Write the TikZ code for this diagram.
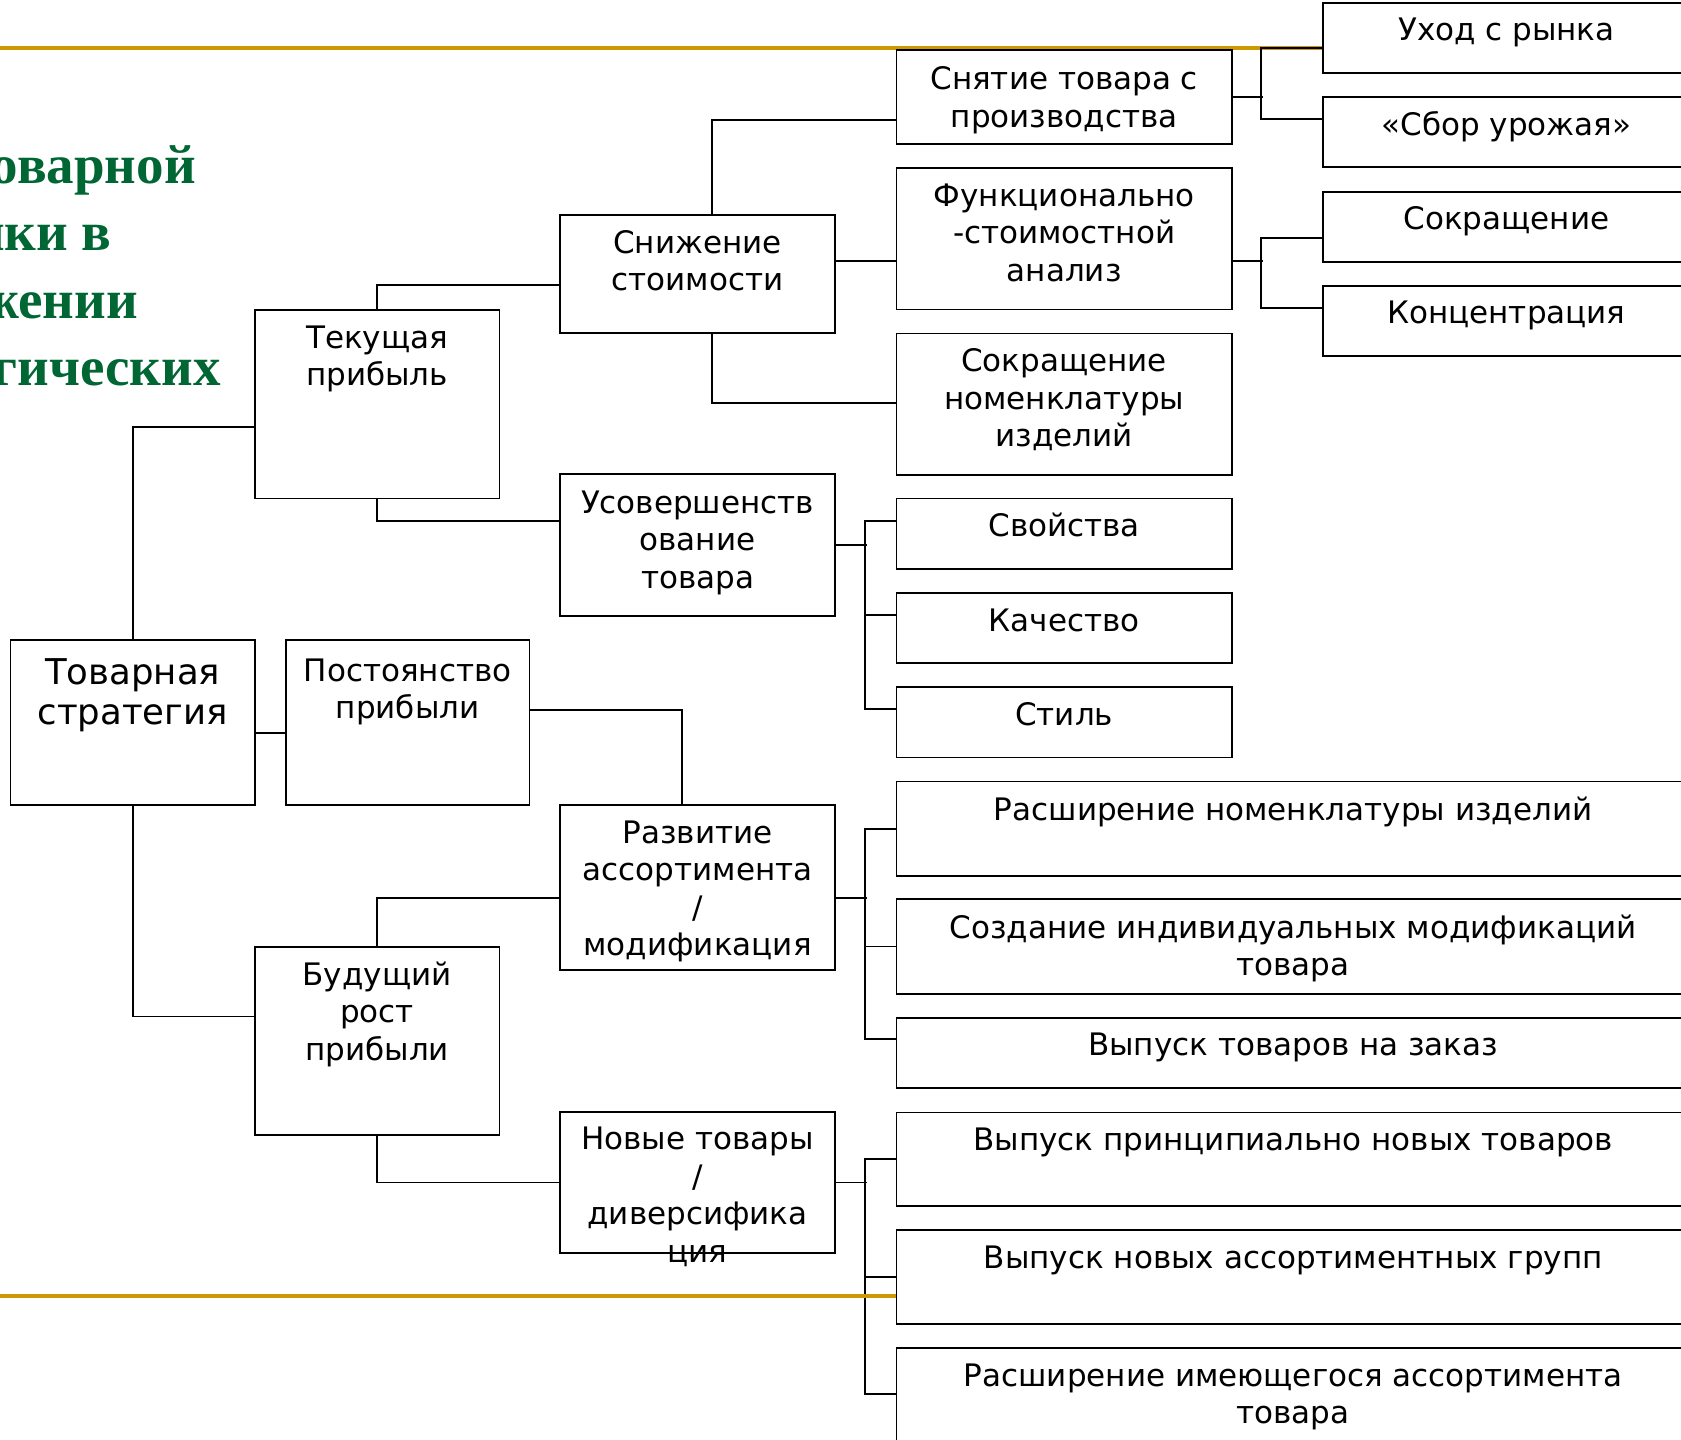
\documentclass[tikz,border=0pt]{standalone}
\usepackage{fontspec}
\setmainfont{DejaVu Sans}
\newfontfamily\titlefont{Liberation Serif}
\usetikzlibrary{calc}
\definecolor{gold}{RGB}{204,153,0}
\definecolor{titlegreen}{RGB}{0,102,51}
\tikzset{
  box/.style={draw=black, line width=1.8pt, fill=white, inner sep=0pt, anchor=north west},
  lbl/.style={inner sep=0pt, align=center, anchor=north, font=\fontsize{31}{37.5}\selectfont},
  biglbl/.style={lbl, font=\fontsize{35.5}{40}\selectfont},
  conn/.style={line width=1.8pt},
  goldline/.style={draw=gold, line width=4pt},
  ttl/.style={inner sep=0pt, anchor=base east, text=titlegreen, font=\titlefont\bfseries\fontsize{55}{60}\selectfont}
}
\newcommand\mkbox[7]{%
  \node[box, minimum width=#4pt, minimum height=#5pt] (#1) at (#2,#3) {};
  \node[lbl] (#1-t) at (#1.north) {\rule{0pt}{#6pt}#7};
}
\begin{document}
\begin{tikzpicture}[x={(1pt,0pt)}, y={(0pt,-1pt)}]
\useasboundingbox (0,0) rectangle (1681,1440);
\clip (0,0) rectangle (1681,1440);
\fill[white] (0,0) rectangle (1681,1440);

% title fragments
\node[ttl] (t1) at (196,183) {товарной};
\node[ttl] (t2) at (112,250) {политики в};
\node[ttl] (t3) at (138,318) {достижении};
\node[ttl] (t4) at (221,385) {стратегических};

% top gold line
\draw[goldline] (0,47.7) -- (1322,47.7);

% boxes
\node[box, minimum width=244.4pt, minimum height=165pt] (tov) at (9.6,639) {};
\node[biglbl] (tov-t) at (tov.north) {\rule{0pt}{45pt}Товарная\\стратегия};
\mkbox{tek}{254}{309}{244.5}{188.5}{39}{Текущая\\прибыль}
\mkbox{post}{285}{639}{243.5}{165}{42}{Постоянство\\прибыли}
\mkbox{bud}{254}{946}{244.5}{188.3}{39}{Будущий\\рост\\прибыли}
\mkbox{snij}{559}{214}{275.3}{118}{39}{Снижение\\стоимости}
\mkbox{usov}{559}{473.3}{275.3}{141.7}{39.5}{Усовершенств\\ование\\товара}
\mkbox{razv}{559}{804}{275.3}{165.3}{39}{Развитие\\ассортимента\\/\\модификация}
\mkbox{nov}{559}{1111}{275.3}{141}{38.5}{Новые товары\\/\\диверсифика\\ция}
\mkbox{snyat}{895.5}{48.7}{335.5}{94}{41}{Снятие товара с\\производства}
\mkbox{func}{895.5}{167}{335.5}{141.5}{39}{Функционально\\-стоимостной\\анализ}
\mkbox{sokrnom}{895.5}{332.5}{335.5}{141.3}{39}{Сокращение\\номенклатуры\\изделий}
\mkbox{svoi}{895.5}{497.5}{335.5}{70.3}{39}{Свойства}
\mkbox{kach}{895.5}{592}{335.5}{70.3}{39}{Качество}
\mkbox{stil}{895.5}{686.3}{335.5}{70.3}{39}{Стиль}
\mkbox{rasnom}{895.5}{780.5}{793.5}{94.5}{39.5}{Расширение номенклатуры изделий}
\mkbox{sozd}{895.5}{898.3}{793.5}{94.5}{39.5}{Создание индивидуальных модификаций\\товара}
\mkbox{zakaz}{895.5}{1016.7}{793.5}{70.3}{39}{Выпуск товаров на заказ}
\mkbox{princ}{895.5}{1111.5}{793.5}{93.7}{39}{Выпуск принципиально новых товаров}
\mkbox{grupp}{895.5}{1229}{793.5}{94}{39}{Выпуск новых ассортиментных групп}
\mkbox{rasim}{895.5}{1347}{793.5}{96}{39}{Расширение имеющегося ассортимента\\товара}
\mkbox{uhod}{1322}{1.7}{367}{70.3}{38.5}{Уход с рынка}
\mkbox{sbor}{1322}{96}{367}{70.3}{39}{«Сбор урожая»}
\mkbox{sokr}{1322}{191}{367}{70.3}{38}{Сокращение}
\mkbox{konc}{1322}{285}{367}{70.3}{38}{Концентрация}

% connectors, level 1
\draw[conn] (tov.north) |- ($(tek.north west)+(0,118)$);
\draw[conn] (tov.south) |- ($(bud.north west)+(0,70.5)$);
\draw[conn] ($(tov.north east)+(0,94)$) -- ($(post.north west)+(0,94)$);
% level 2
\draw[conn] (tek.north) |- ($(snij.north west)+(0,71)$);
\draw[conn] (tek.south) |- ($(usov.north west)+(0,47.7)$);
\draw[conn] ($(post.north east)+(0,71)$) -| ($(razv.north west)+(123,0)$);
\draw[conn] (bud.north) |- ($(razv.north west)+(0,94.3)$);
\draw[conn] (bud.south) |- (nov.west);
% level 3
\draw[conn] ($(snij.north west)+(153,0)$) |- ($(snyat.north west)+(0,71.3)$);
\draw[conn] ($(snij.north east)+(0,47)$) -- ($(func.north west)+(0,94)$);
\draw[conn] ($(snij.south west)+(153,0)$) |- ($(sokrnom.north west)+(0,70.5)$);
% level 4 buses
\draw[conn] (snyat.east) -- ++(30,0);
\draw[conn] ($(uhod.north west)+(0,46)$) -| ($(sbor.north west)+(-61,23)$) -- ($(sbor.north west)+(0,23)$);
\draw[conn] ($(func.north east)+(0,94)$) -- ++(30,0);
\draw[conn] ($(sokr.north west)+(0,46.7)$) -| ($(konc.north west)+(-61,23)$) -- ($(konc.north west)+(0,23)$);
\draw[conn] (usov.east) -- ++(30.5,0);
\draw[conn] ($(svoi.north west)+(0,23.5)$) -| ($(stil.north west)+(-30.5,22.6)$) -- ($(stil.north west)+(0,22.6)$);
\draw[conn] ($(kach.north west)+(-30.5,23.3)$) -- ($(kach.north west)+(0,23.3)$);
\draw[conn] ($(razv.north east)+(0,94.3)$) -- ++(30.5,0);
\draw[conn] (rasnom.west) -| ($(zakaz.north west)+(-30.5,22.6)$) -- ($(zakaz.north west)+(0,22.6)$);
\draw[conn] ($(sozd.west)+(-30.5,0)$) -- (sozd.west);
\draw[conn] (nov.east) -- ++(30.5,0);
\draw[conn] (princ.west) -| ($(rasim.north west)+(-30.5,47)$) -- ($(rasim.north west)+(0,47)$);
\draw[conn] ($(grupp.west)+(-30.5,0)$) -- (grupp.west);

% bottom gold line
\draw[goldline] (0,1296) -- (grupp.west |- 0,1296);
\end{tikzpicture}
\end{document}
